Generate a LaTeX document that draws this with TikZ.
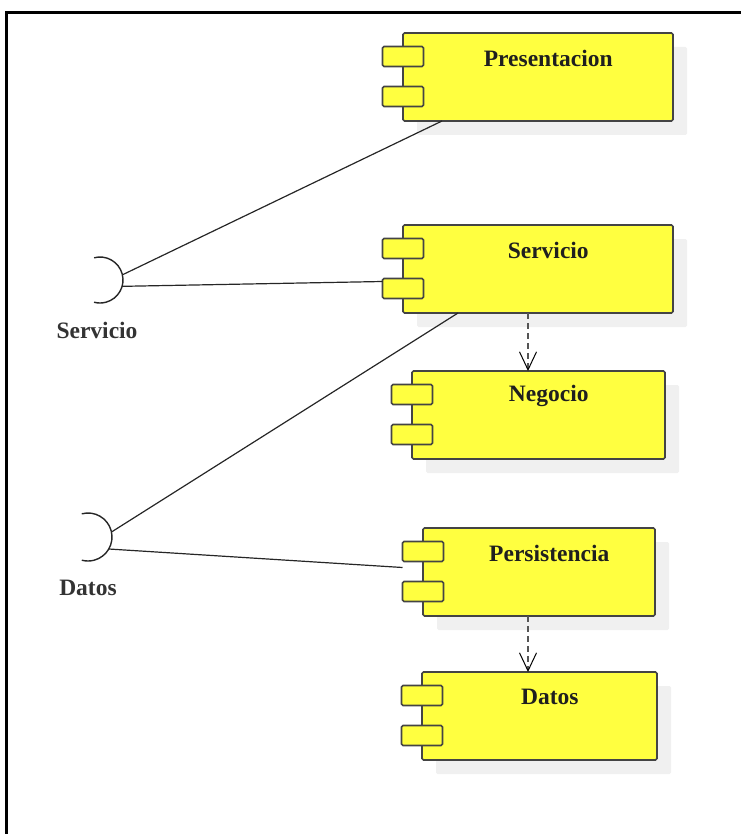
\documentclass[tikz,border=0pt]{standalone}
\usepackage{fontspec}
\setmainfont{Liberation Serif}
\usetikzlibrary{positioning}
\usetikzlibrary{calc}
\usetikzlibrary{shadows}
\usetikzlibrary{arrows.meta}
\definecolor{compyellow}{RGB}{255,255,64}
\definecolor{compline}{RGB}{68,68,68}
\definecolor{shadowgray}{RGB}{240,240,240}
\definecolor{depgray}{RGB}{85,85,85}
\definecolor{labelgray}{RGB}{51,51,51}

\begin{document}
\begin{tikzpicture}[x=1pt, y=1pt,
				comp/.style={draw=compline, fill=compyellow, line width=1.6pt, rounded corners=1.5pt, minimum height=88pt, inner sep=0pt, outer sep=0pt,
					general shadow={fill=shadowgray, shadow xshift=14pt, shadow yshift=-14pt}},
				tab/.style={draw=compline, fill=compyellow, line width=1.6pt, rounded corners=1.5pt, minimum width=41pt, minimum height=20pt, inner sep=0pt, outer sep=0pt},
				comptext/.style={font=\bfseries\fontsize{23.5}{28}\selectfont, text=black!88, anchor=center, xshift=10.25pt, yshift=-25pt},
				socket/.style={circle, inner sep=0pt, outer sep=0pt},
				ifacetext/.style={font=\bfseries\fontsize{23.5}{28}\selectfont, text=labelgray, inner sep=0pt},
				iface/.style={draw=black!85, line width=1.4pt},
				wire/.style={draw=black!85, line width=1.2pt},
				dep/.style={draw=depgray, line width=2pt, dash pattern=on 6pt off 4pt, -{Straight Barb[length=18pt, width=17pt, line width=1pt, color=black]}}]

				\useasboundingbox (0,0) rectangle (741,-834);
				\draw[line width=2.2pt] (6.5,-834) -- (6.5,-12.5) -- (741,-12.5);

				\node (pres) at (538,-77) [comp, minimum width=270pt, label={[comptext]north:Presentacion}] {};
				\node[below=104pt of pres] (serv) [comp, minimum width=270pt, label={[comptext]north:Servicio}] {};
				\node[below=58pt of serv, xshift=0.5pt] (neg) [comp, minimum width=253pt, label={[comptext]north:Negocio}] {};
				\node[below=69pt of neg, xshift=0.5pt] (pers) [comp, minimum width=232pt, label={[comptext]north:Persistencia}] {};
				\node[below=56pt of pers, xshift=0.5pt] (dat) [comp, minimum width=235pt, label={[comptext]north:Datos}] {};

				\foreach \c in {pres,serv,neg,pers,dat} {
					\node[tab] (\c-tab1) at ($(\c.north west)+(0,-23.5)$) {};
					\node[tab] (\c-tab2) at ($(\c.north west)+(0,-63.5)$) {};
				}

				\node (sock-serv) at (100,-280) [socket, minimum size=46pt] {};
				\node (sock-dat) at (88,-537) [socket, minimum size=48pt] {};
				\draw[iface] (sock-serv.105) arc[start angle=105, end angle=-105, radius=23pt];
				\draw[iface] (sock-dat.105) arc[start angle=105, end angle=-105, radius=24pt];
				\node[below=19pt of sock-serv, xshift=-3pt] (lbl-serv) [ifacetext] {Servicio};
				\node[below=19pt of sock-dat] (lbl-dat) [ifacetext] {Datos};

				\draw[wire] ([xshift=39pt]pres.south west) -- (sock-serv.13);
				\draw[wire] ([yshift=-3pt]serv-tab2.north west) -- (sock-serv.-16);
				\draw[wire] ([xshift=55pt]serv.south west) -- (sock-dat.12);
				\draw[wire] ([yshift=-6pt]pers-tab1.south west) -- (sock-dat.-30);

				\draw[dep] ($(serv.south)+(-10,0)$) -- ($(serv.south |- neg.north)+(-10,0)$);
				\draw[dep] ($(pers.south)+(-11,0)$) -- ($(pers.south |- dat.north)+(-11,0)$);

			\end{tikzpicture}
\end{document}
